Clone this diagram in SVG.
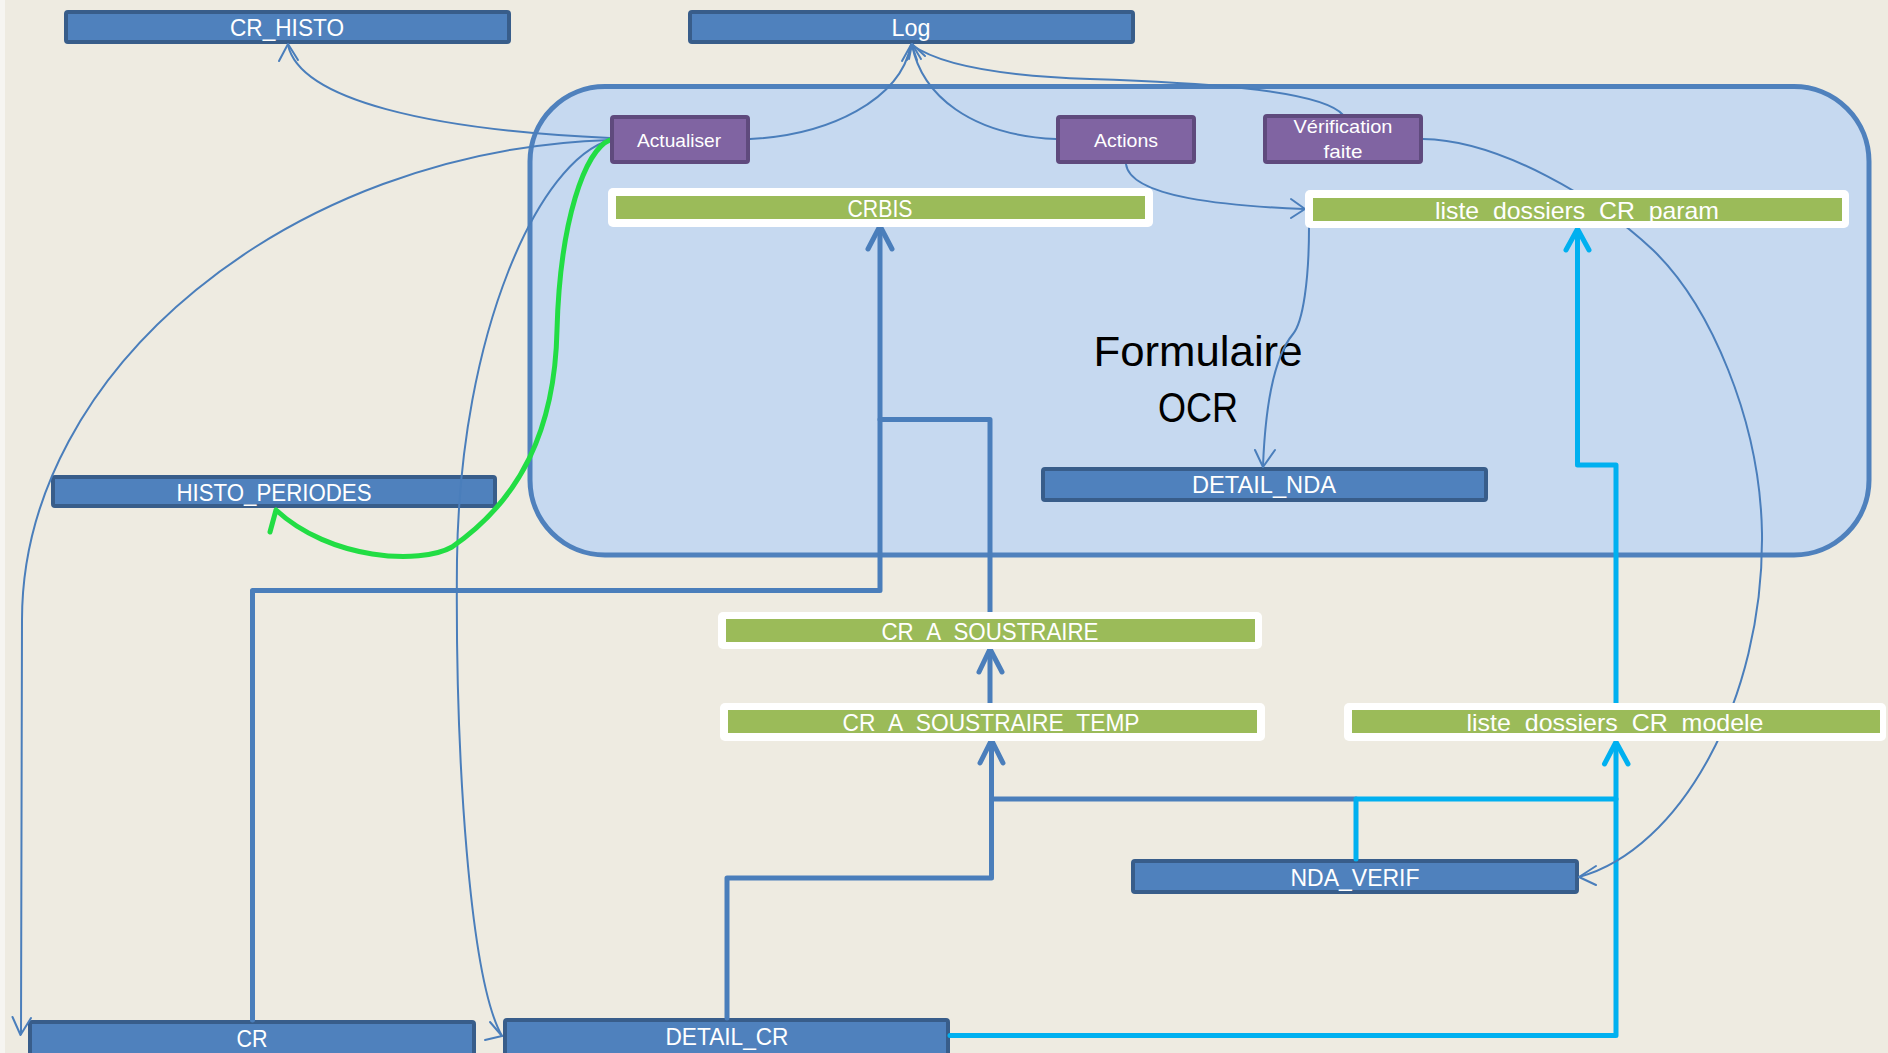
<svg xmlns="http://www.w3.org/2000/svg" width="1888" height="1053" viewBox="0 0 1888 1053">
<style>
.tbl rect{fill:#4F81BD;stroke:#385D8A;stroke-width:4}
.tbl text{fill:#FFFFFF;font-family:"Liberation Sans",Arial,sans-serif;font-size:24px;text-anchor:middle}
.btn rect{fill:#8064A2;stroke:#5F4A7D;stroke-width:4}
.btn text{fill:#FFFFFF;font-family:"Liberation Sans",Arial,sans-serif;font-size:19px;text-anchor:middle}
.grn .frame{fill:#FFFFFF}
.grn .bar{fill:#9BBB59}
.grn text{fill:#FFFFFF;font-family:"Liberation Sans",Arial,sans-serif;font-size:24px;text-anchor:middle}
.thin{fill:none;stroke:#4A7EBB;stroke-width:2;stroke-linecap:round;stroke-linejoin:round}
.thick{fill:none;stroke:#4A7EBB;stroke-width:5;stroke-linecap:round;stroke-linejoin:round}
.cyan{fill:none;stroke:#00B0F0;stroke-width:5;stroke-linecap:round;stroke-linejoin:round}
.lime{fill:none;stroke:#22DD44;stroke-width:5;stroke-linecap:round;stroke-linejoin:round}
.lbl{fill:#000000;font-family:"Liberation Sans",Arial,sans-serif;font-size:42px;text-anchor:middle}
</style>
<rect x="0" y="0" width="1888" height="1053" fill="#EEEBE1"/>
<rect x="0" y="0" width="5" height="1053" fill="#F6F5F1"/>

<g id="formulaire-ocr">
<rect x="530" y="86.5" width="1339" height="468.5" rx="75" ry="75" fill="#C6D9F0" stroke="#4F81BD" stroke-width="5"/>
<text class="lbl" x="1198" y="366" textLength="209" lengthAdjust="spacingAndGlyphs">Formulaire</text>
<text class="lbl" x="1198" y="422" textLength="80" lengthAdjust="spacingAndGlyphs">OCR</text>
</g>

<g id="CR_HISTO" class="tbl"><rect x="66" y="12" width="443" height="30" rx="2"/><text x="287" y="36" textLength="114" lengthAdjust="spacingAndGlyphs">CR_HISTO</text></g>
<g id="Log" class="tbl"><rect x="690" y="12" width="443" height="30" rx="2"/><text x="911" y="36" textLength="39" lengthAdjust="spacingAndGlyphs">Log</text></g>
<g id="HISTO_PERIODES" class="tbl"><rect x="53" y="477" width="442" height="29" rx="2"/><text x="274" y="501" textLength="195" lengthAdjust="spacingAndGlyphs">HISTO_PERIODES</text></g>
<g id="DETAIL_NDA" class="tbl"><rect x="1043" y="469" width="443" height="31" rx="2"/><text x="1264" y="493" textLength="144" lengthAdjust="spacingAndGlyphs">DETAIL_NDA</text></g>
<g id="NDA_VERIF" class="tbl"><rect x="1133" y="861" width="444" height="31" rx="2"/><text x="1355" y="886" textLength="129" lengthAdjust="spacingAndGlyphs">NDA_VERIF</text></g>
<g id="CR" class="tbl"><rect x="30" y="1022" width="444" height="38" rx="2"/><text x="252" y="1047" textLength="31" lengthAdjust="spacingAndGlyphs">CR</text></g>
<g id="DETAIL_CR" class="tbl"><rect x="505" y="1020" width="443" height="40" rx="2"/><text x="727" y="1045" textLength="123" lengthAdjust="spacingAndGlyphs">DETAIL_CR</text></g>

<g id="connectors">
<!-- thick blue -->
<path class="thick" d="M252.5,1020 V590.5 H880 V229"/>
<path class="thick" d="M990,612 V419.5 H880"/>
<path class="thick" d="M990,703 V651"/>
<path class="thick" d="M727,1018 V878 H991.5 V743"/>
<path class="thick" d="M1356,799 H991.5"/>
<path class="thick" d="M868,249 L880,226 L892,249"/>
<path class="thick" d="M979,672 L990,649 L1002,672"/>
<path class="thick" d="M980,763 L991.5,740 L1003,763"/>
<!-- cyan -->
<path class="cyan" d="M1356,859 V799 H1616"/>
<path class="cyan" d="M950,1035.5 H1616 V744"/>
<path class="cyan" d="M1616,703 V465 H1577.5 V231"/>
<path class="cyan" d="M1604.5,764 L1616,742 L1628,764"/>
<path class="cyan" d="M1566,250 L1577.5,229 L1589,250"/>
<!-- thin curves -->
<path class="thin" d="M610,138 C430,130 300,100 288,45"/>
<path class="thin" d="M279,61 L288,44 L298,60"/>
<path class="thin" d="M750,139 C830,135 900,100 911,45"/>
<path class="thin" d="M1056,139 C970,135 922,95 912,45"/>
<path class="thin" d="M1343,115 C1320,88 1180,82 1090,79 S940,65 912,45"/>
<path class="thin" d="M902,61 L911.5,44 L917,60"/>
<path class="thin" d="M907,60 L912,44 L921,59"/>
<path class="thin" d="M909,59 L912,44 L925,56"/>
<path class="thin" d="M610,140 C290,150 22,370 22,620 L21,1034"/>
<path class="thin" d="M12.5,1017 L20.5,1035 L31,1018"/>
<path class="thin" d="M610,140 C540,160 460,330 457,560 C455,760 470,980 502,1036"/>
<path class="thin" d="M490,1022 L502,1036 L485,1040"/>
<path class="thin" d="M1126,164 C1130,198 1230,206 1304,209"/>
<path class="thin" d="M1291,199 L1305,209 L1291,218"/>
<path class="thin" d="M1309,228 C1309,280 1303,322 1293,334 C1278,352 1266,390 1263,466"/>
<path class="thin" d="M1255,450 L1263,467 L1275,450"/>
<path class="thin" d="M1423,139 C1500,140 1600,200 1653,250 C1710,305 1760,420 1762,533 C1764,700 1680,850 1579,877"/>
<path class="thin" d="M1596,866 L1579,877 L1596,885"/>
<!-- green -->
<path class="lime" d="M610,140 C585,150 560,220 557,330 C555,430 520,500 452,547 C420,565 330,560 276,510 L270,532"/>
</g>

<g id="CRBIS" class="grn"><rect class="frame" x="608" y="188" width="545" height="39" rx="5"/><rect class="bar" x="616" y="196" width="529" height="23"/><text x="880" y="217" textLength="65" lengthAdjust="spacingAndGlyphs">CRBIS</text></g>
<g id="liste_dossiers_CR_param" class="grn"><rect class="frame" x="1305" y="190" width="544" height="38" rx="5"/><rect class="bar" x="1313" y="198" width="529" height="23"/><text x="1577" y="219" textLength="284" lengthAdjust="spacingAndGlyphs">liste_dossiers_CR_param</text></g>
<g id="CR_A_SOUSTRAIRE" class="grn"><rect class="frame" x="718" y="612" width="544" height="37" rx="5"/><rect class="bar" x="726" y="619" width="529" height="23"/><text x="990" y="640" textLength="217" lengthAdjust="spacingAndGlyphs">CR_A_SOUSTRAIRE</text></g>
<g id="CR_A_SOUSTRAIRE_TEMP" class="grn"><rect class="frame" x="720" y="703" width="545" height="38" rx="5"/><rect class="bar" x="728" y="710" width="529" height="23"/><text x="991" y="731" textLength="297" lengthAdjust="spacingAndGlyphs">CR_A_SOUSTRAIRE_TEMP</text></g>
<g id="liste_dossiers_CR_modele" class="grn"><rect class="frame" x="1344" y="703" width="542" height="38" rx="5"/><rect class="bar" x="1352" y="710" width="528" height="23"/><text x="1615" y="731" textLength="297" lengthAdjust="spacingAndGlyphs">liste_dossiers_CR_modele</text></g>

<g id="Actualiser" class="btn"><rect x="612" y="117" width="136" height="45" rx="2"/><text x="679" y="147" textLength="84" lengthAdjust="spacingAndGlyphs">Actualiser</text></g>
<g id="Actions" class="btn"><rect x="1058" y="117" width="136" height="45" rx="2"/><text x="1126" y="147" textLength="64" lengthAdjust="spacingAndGlyphs">Actions</text></g>
<g id="Verification_faite" class="btn"><rect x="1265" y="116" width="156" height="46" rx="2"/><text x="1343" y="133" textLength="99" lengthAdjust="spacingAndGlyphs">Vérification</text><text x="1343" y="158" textLength="39" lengthAdjust="spacingAndGlyphs">faite</text></g>
</svg>
